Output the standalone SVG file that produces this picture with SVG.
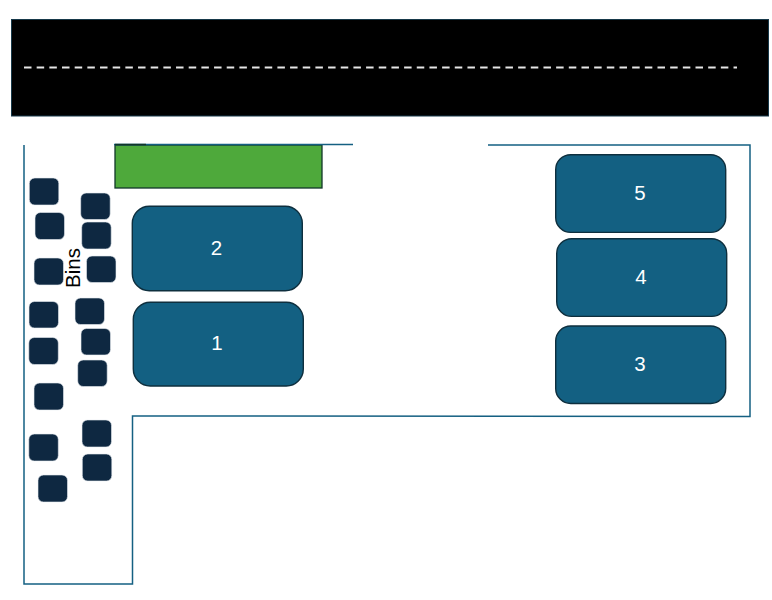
<svg xmlns="http://www.w3.org/2000/svg" width="772" height="600" viewBox="0 0 772 600">
<style>
.bin{fill:#0e2841;stroke:#e8edf1;stroke-width:.6}
.st{fill:#136082;stroke:#0e2f3e;stroke-width:1.4}
.num{font:20.500px "Liberation Sans",Arial,sans-serif;fill:#fff;text-anchor:middle}
.wall{fill:none;stroke:#156082;stroke-width:1.500}
</style>
<rect width="772" height="600" fill="#fff"/>
<g id="road">
<rect x="11.500" y="19.500" width="757" height="96.500" fill="#000" stroke="#17394a" stroke-width="1"/>
<line x1="24" y1="67.500" x2="737" y2="67.500" stroke="#e6e6e6" stroke-width="2" stroke-dasharray="7.500 5.170"/>
</g>
<g id="green-area">
<rect x="115" y="145" width="207" height="43" fill="#4ea93b" stroke="#12372a" stroke-width="1.300"/>
</g>
<g id="connectors">
<path class="wall" d="M488 145H750V416.500L132.500 416V584H24V145"/>
<path class="wall" d="M114 144.500H353"/>
<path d="M115 144.500H146" stroke="#12372a" stroke-width="1.500"/>
</g>
<g id="bins">
<rect class="bin" x="29.300" y="178" width="29.500" height="27" rx="5.500"/>
<rect class="bin" x="35" y="212.500" width="29.500" height="27" rx="5.500"/>
<rect class="bin" x="80.700" y="193" width="29.500" height="26.500" rx="5.500"/>
<rect class="bin" x="81.700" y="222" width="29.500" height="27" rx="5.500"/>
<rect class="bin" x="86.500" y="256" width="29.500" height="26.500" rx="5.500"/>
<rect class="bin" x="34" y="258" width="29.500" height="27" rx="5.500"/>
<rect class="bin" x="29" y="301.500" width="29.500" height="26.500" rx="5.500"/>
<rect class="bin" x="75" y="298" width="29.500" height="26.500" rx="5.500"/>
<rect class="bin" x="81" y="328.500" width="29.500" height="26.500" rx="5.500"/>
<rect class="bin" x="28.800" y="337.500" width="29.500" height="27" rx="5.500"/>
<rect class="bin" x="77.700" y="360" width="29.500" height="26.500" rx="5.500"/>
<rect class="bin" x="34" y="383" width="29.500" height="27" rx="5.500"/>
<rect class="bin" x="82" y="420" width="29.500" height="27" rx="5.500"/>
<rect class="bin" x="28.800" y="434" width="29.500" height="27" rx="5.500"/>
<rect class="bin" x="82.300" y="454" width="29.500" height="27" rx="5.500"/>
<rect class="bin" x="38" y="475" width="29.500" height="27" rx="5.500"/>
<text transform="translate(79.500,288) rotate(-90)" font-family="Liberation Sans,Arial,sans-serif" font-size="20.500" fill="#000">Bins</text>
</g>
<g id="node-2"><rect class="st" x="132.300" y="206.300" width="170" height="84.500" rx="17"/><text class="num" x="216.500" y="254.500">2</text></g>
<g id="node-1"><rect class="st" x="133.300" y="302.300" width="170" height="83.700" rx="17"/><text class="num" x="217" y="350">1</text></g>
<g id="node-5"><rect class="st" x="555.700" y="154.700" width="170" height="77.700" rx="15"/><text class="num" x="640" y="200">5</text></g>
<g id="node-4"><rect class="st" x="556.700" y="238.700" width="170" height="77.700" rx="15"/><text class="num" x="641" y="284">4</text></g>
<g id="node-3"><rect class="st" x="555.700" y="326" width="170" height="77.500" rx="15"/><text class="num" x="640" y="371">3</text></g>
</svg>
